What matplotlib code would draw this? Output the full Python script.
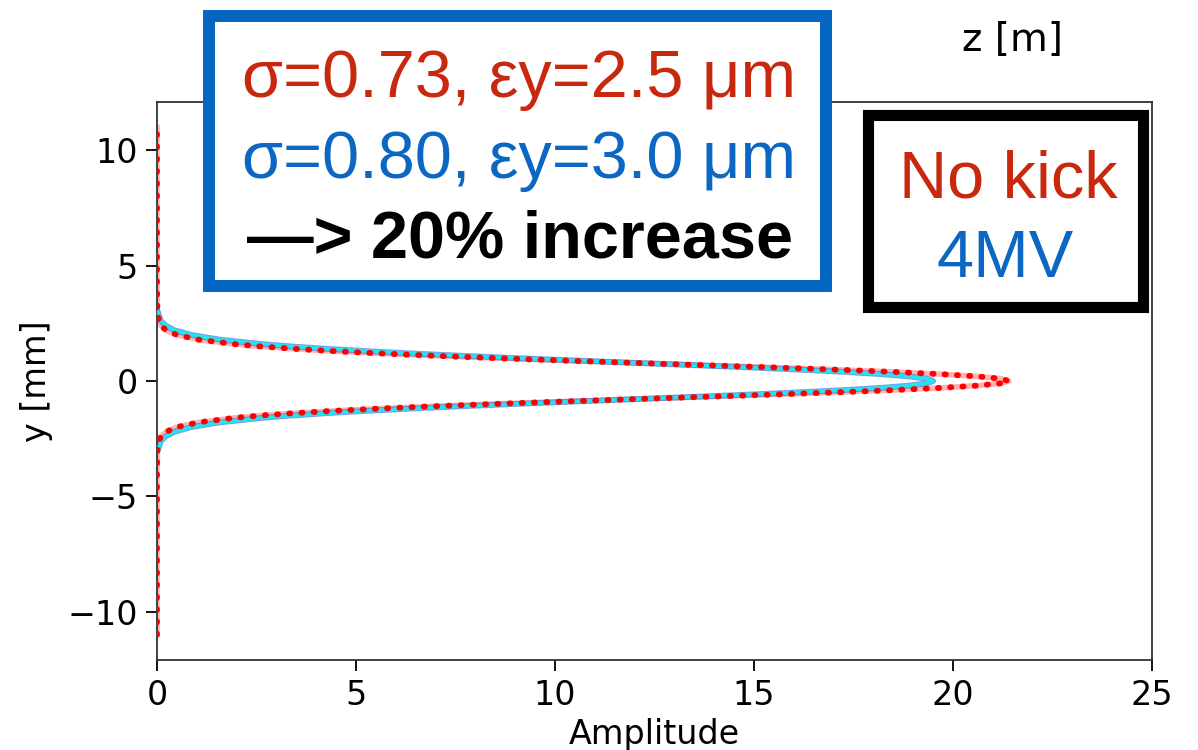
import matplotlib
matplotlib.use("Agg")
import matplotlib.pyplot as plt
from matplotlib.patches import Rectangle
from matplotlib import font_manager

# --- data ---
y_mm = [-11.0, -4.0, -3.0, -2.6, -2.4, -2.2, -2.0, -1.8, -1.6, -1.5, -1.4, -1.3,
        -1.2, -1.1, -1.0, -0.9, -0.8, -0.7, -0.6, -0.5, -0.4, -0.3, -0.2, -0.1,
        0.0,
        0.1, 0.2, 0.3, 0.4, 0.5, 0.6, 0.7, 0.8, 0.9, 1.0, 1.1, 1.2,
        1.3, 1.4, 1.5, 1.6, 1.8, 2.0, 2.2, 2.4, 2.6, 3.0, 4.0, 11.0]

amp_no_kick = [0.0, 0.0, 0.01, 0.05, 0.10, 0.23, 0.50, 1.02, 1.94, 2.59, 3.40, 4.38,
               5.54, 6.88, 8.38, 10.01, 11.74, 13.51, 15.27, 16.93, 18.42, 19.67, 20.61, 21.20,
               21.40,
               21.20, 20.61, 19.67, 18.42, 16.93, 15.27, 13.51, 11.74, 10.01, 8.38, 6.88, 5.54,
               4.38, 3.40, 2.59, 1.94, 1.02, 0.50, 0.23, 0.10, 0.05, 0.01, 0.0, 0.0]

# 4MV curve: only visible where it leaves the axis (hidden under red further out)
y_4mv = [-3.0, -2.6, -2.4, -2.2, -2.0, -1.8, -1.6, -1.5, -1.4, -1.3,
         -1.2, -1.1, -1.0, -0.9, -0.8, -0.7, -0.6, -0.5, -0.4, -0.3, -0.2, -0.1,
         0.0,
         0.1, 0.2, 0.3, 0.4, 0.5, 0.6, 0.7, 0.8, 0.9, 1.0, 1.1, 1.2,
         1.3, 1.4, 1.5, 1.6, 1.8, 2.0, 2.2, 2.4, 2.6, 3.0]
amp_4mv = [0.02, 0.10, 0.22, 0.44, 0.86, 1.55, 2.64, 3.36, 4.22, 5.21,
           6.33, 7.58, 8.93, 10.36, 11.83, 13.30, 14.72, 16.04, 17.21, 18.18, 18.90, 19.35,
           19.50,
           19.35, 18.90, 18.18, 17.21, 16.04, 14.72, 13.30, 11.83, 10.36, 8.93, 7.58, 6.33,
           5.21, 4.22, 3.36, 2.64, 1.55, 0.86, 0.44, 0.22, 0.10, 0.02]

x_ticks = [0, 5, 10, 15, 20, 25]
y_ticks = [-10, -5, 0, 5, 10]

RED_TXT = "#C8280E"
BLUE_TXT = "#0B67C2"
BOX_BLUE = "#0466C0"

# narrow font for the squeezed bottom labels, if one is installed
names = {f.name for f in font_manager.fontManager.ttflist}
NARROW = [n for n in ["DejaVu Sans Condensed", "Liberation Sans Narrow"] if n in names] + ["DejaVu Sans"]

W, H = 1198, 750
fig = plt.figure(figsize=(W / 100, H / 100), dpi=100)
ax = fig.add_axes([157 / W, 1 - 660 / H, (1152 - 157) / W, (660 - 102) / H])

# curves
ax.plot(amp_no_kick, y_mm, color="red", lw=4.0, alpha=0.3, zorder=1.5)
ax.plot(amp_4mv, y_4mv, color="#3C78E6", lw=4.2, alpha=0.7, zorder=2)
ax.plot(amp_4mv, y_4mv, color="#22E5F0", lw=2.6, zorder=3)
ax.plot(amp_no_kick, y_mm, color="red", lw=4.2, ls=(0, (0.2, 1.9)),
        dash_capstyle="round", zorder=4)

ax.set_xlim(0, 25)
ax.set_ylim(-12.1, 12.1)
ax.set_xticks(x_ticks)
ax.set_yticks(y_ticks)
ax.tick_params(length=8, width=1.3, labelsize=24, pad=6)
for lab in ax.get_xticklabels():
    lab.set_family(NARROW)
for s in ax.spines.values():
    s.set_linewidth(1.3)
    s.set_color("#333333")

ax.set_xlabel("Amplitude", fontsize=24, family=NARROW, labelpad=4)
ax.set_ylabel("y [mm]", fontsize=24, labelpad=10)

fig.text(1012 / W, 1 - 40 / H, "z [m]", fontsize=28, family=NARROW,
         ha="center", va="center")

# blue summary box
fig.patches.append(Rectangle((209 / W, 1 - 286 / H), (826 - 209) / W, (286 - 16) / H,
                             transform=fig.transFigure, facecolor="white",
                             edgecolor=BOX_BLUE, lw=8.6, zorder=5))
fig.text(519 / W, 1 - 97 / H, "σ=0.73, εy=2.5 μm", color=RED_TXT, fontsize=48,
         family="Liberation Sans", ha="center", va="baseline", zorder=6)
fig.text(519 / W, 1 - 178 / H, "σ=0.80, εy=3.0 μm", color=BLUE_TXT, fontsize=48,
         family="Liberation Sans", ha="center", va="baseline", zorder=6)
fig.text(520 / W, 1 - 257 / H, "—> 20% increase", color="black", fontsize=48,
         family="Liberation Sans", weight="bold", ha="center", va="baseline", zorder=6)

# legend-like black box
fig.patches.append(Rectangle((867.5 / W, 1 - 307.5 / H), (1142.5 - 867.5) / W, (307.5 - 115.5) / H,
                             transform=fig.transFigure, facecolor="white",
                             edgecolor="black", lw=8, zorder=5))
fig.text(1008 / W, 1 - 198 / H, "No kick", color=RED_TXT, fontsize=48,
         family="Liberation Sans", ha="center", va="baseline", zorder=6)
fig.text(1005 / W, 1 - 277 / H, "4MV", color=BLUE_TXT, fontsize=48,
         family="Liberation Sans", ha="center", va="baseline", zorder=6)

fig.savefig("out.png", dpi=100)
